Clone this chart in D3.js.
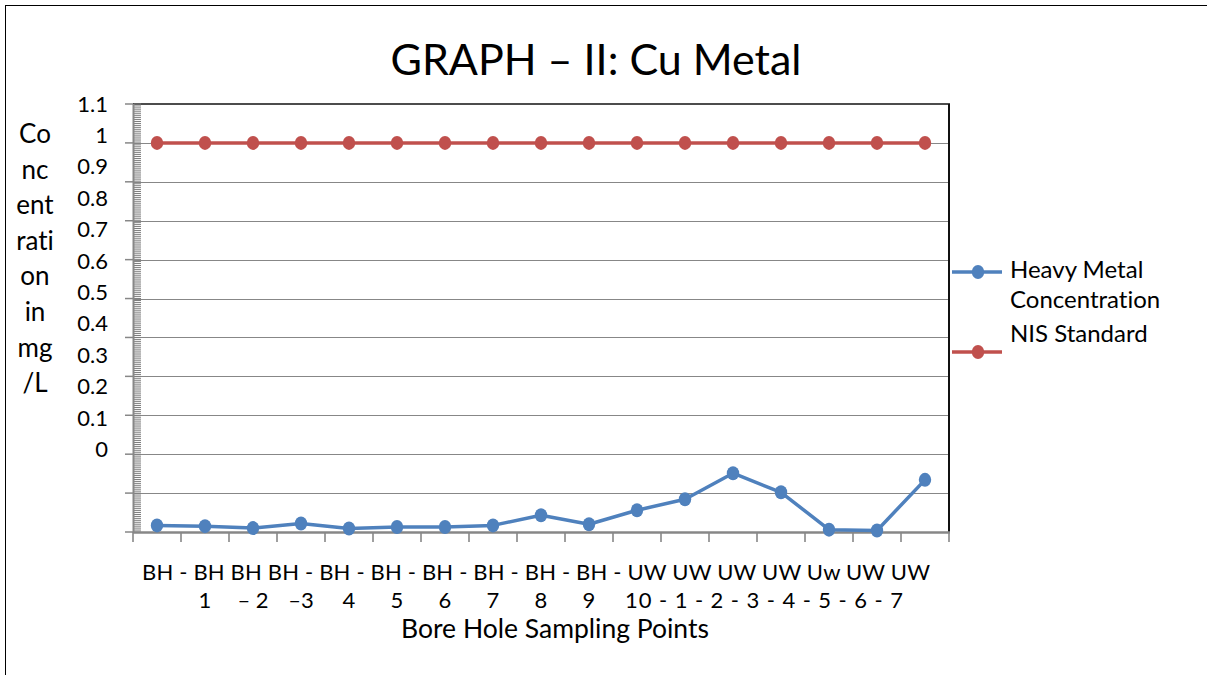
<!DOCTYPE html>
<html>
<head>
<meta charset="utf-8">
<script src="https://cdn.jsdelivr.net/npm/d3@7"></script>
<style>
  html, body { margin: 0; padding: 0; background: #fff; }
  svg { display: block; font-family: Lato, "Open Sans", sans-serif; font-variant-ligatures: none; }
</style>
</head>
<body>
<svg id="chart" width="1207" height="675"></svg>
<script>
// Sampling points (x categories)
const categories = ["BH - 1", "BH - 2", "BH - 3", "BH - 4", "BH - 5", "BH - 6", "BH - 7", "BH - 8", "BH - 9", "BH - 10",
                    "UW - 1", "UW - 2", "UW - 3", "UW - 4", "UW - 5", "UW - 6", "UW - 7"];

// Cu concentration in mg/L
const heavyMetal = [0.017, 0.015, 0.010, 0.022, 0.009, 0.013, 0.013, 0.017, 0.043, 0.020,
                    0.056, 0.084, 0.151, 0.102, 0.006, 0.004, 0.134];

// NIS permissible limit for Cu
const nisStandard = [1, 1, 1, 1, 1, 1, 1, 1, 1, 1, 1, 1, 1, 1, 1, 1, 1];

// Value axis labels
const yTickLabels = ["1.1", "1", "0.9", "0.8", "0.7", "0.6", "0.5", "0.4", "0.3", "0.2", "0.1", "0"];
const yTickValues = [1.1, 1.0, 0.9, 0.8, 0.7, 0.6, 0.5, 0.4, 0.3, 0.2, 0.1, 0];

// Category axis label text, as it wraps onto two lines
const xLabelTop = ["BH -", "BH", "BH", "BH -", "BH -", "BH -", "BH -", "BH -", "BH -", "BH -",
                   "UW", "UW", "UW", "UW", "Uw", "UW", "UW"];
const xLabelBottom = ["", "1", "\u2013 2", "\u20133", "4", "5", "6", "7", "8", "9"];
const xLabelBottomTail = ["10 -", "1 -", "2 -", "3 -", "4 -", "5 -", "6 -", " 7"];

const yTitleLines = ["Co", "nc", "ent", "rati", "on", "in", "mg", "/L"];

const colors = { metal: "#4f81bd", nis: "#c0504d" };

const W = 1207, H = 675;
const plot = { left: 133, right: 949, top: 104, bottom: 532 };

const svg = d3.select("#chart");

// outer frame
svg.append("rect")
  .attr("x", 5.5).attr("y", 5.5)
  .attr("width", W + 20).attr("height", H + 20)
  .attr("fill", "none").attr("stroke", "#000").attr("stroke-width", 1);

// scales
const x = d3.scaleBand().domain(categories).range([plot.left, plot.right]);
const y = d3.scaleLinear().domain([0, 1.1]).range([plot.bottom, plot.top]);
// the value labels sit in their own evenly spaced column
const yLabel = d3.scaleLinear().domain([1.1, 0]).range([111.5, 457]);

const grey = "#878787";

// horizontal gridlines
const gridVals = d3.range(1, 11).map(i => i / 10);
svg.append("g").selectAll("line").data(gridVals).join("line")
  .attr("x1", plot.left).attr("x2", plot.right)
  .attr("y1", d => Math.round(y(d)) + 0.5).attr("y2", d => Math.round(y(d)) + 0.5)
  .attr("stroke", grey).attr("stroke-width", 1.2);

// plot frame (top and right)
svg.append("line")
  .attr("x1", plot.left).attr("x2", plot.right + 1)
  .attr("y1", y(1.1)).attr("y2", y(1.1))
  .attr("stroke", "#111").attr("stroke-width", 1.5);
svg.append("line")
  .attr("x1", plot.right).attr("x2", plot.right)
  .attr("y1", y(1.1)).attr("y2", y(0))
  .attr("stroke", "#111").attr("stroke-width", 2);

// value axis: minor tick ladder, major ticks, axis line
const minorVals = d3.range(0, 221).map(i => i * 0.005);
svg.append("g").selectAll("line").data(minorVals).join("line")
  .attr("x1", plot.left + 1).attr("x2", plot.left + 8)
  .attr("y1", d => y(d)).attr("y2", d => y(d))
  .attr("stroke", "#7d7d7d").attr("stroke-width", 1);

svg.append("g").selectAll("line").data(d3.range(0, 12).map(i => i / 10)).join("line")
  .attr("x1", plot.left - 8).attr("x2", plot.left)
  .attr("y1", d => y(d)).attr("y2", d => y(d))
  .attr("stroke", grey).attr("stroke-width", 1.5);

svg.append("line")
  .attr("x1", plot.left + 0.5).attr("x2", plot.left + 0.5)
  .attr("y1", y(1.1)).attr("y2", y(0) + 1)
  .attr("stroke", grey).attr("stroke-width", 2);

// value labels
svg.append("g").selectAll("text").data(yTickValues).join("text")
  .attr("x", 108).attr("y", d => yLabel(d))
  .attr("text-anchor", "end")
  .attr("font-size", 22).attr("fill", "#000")
  .text((d, i) => yTickLabels[i]);

// value axis title, broken over several short lines
svg.append("g").selectAll("text").data(yTitleLines).join("text")
  .attr("x", 35).attr("y", (d, i) => 143 + i * 35.6)
  .attr("text-anchor", "middle")
  .attr("font-size", 26).attr("fill", "#000")
  .text(d => d);

// category axis line and ticks
svg.append("line")
  .attr("x1", plot.left).attr("x2", plot.right + 1)
  .attr("y1", y(0) + 0.5).attr("y2", y(0) + 0.5)
  .attr("stroke", grey).attr("stroke-width", 2.5);
const edges = categories.map(c => x(c)).concat([x(categories[categories.length - 1]) + x.bandwidth()]);
svg.append("g").selectAll("line").data(edges).join("line")
  .attr("x1", d => d).attr("x2", d => d)
  .attr("y1", y(0)).attr("y2", y(0) + 10)
  .attr("stroke", grey).attr("stroke-width", 1.6);

// category labels: first line flows across the axis
const labelFont = 22;
svg.append("text")
  .attr("x", 142).attr("y", 580)
  .attr("font-size", labelFont).attr("fill", "#000")
  .attr("textLength", 788).attr("lengthAdjust", "spacing")
  .text(xLabelTop.join(" "));

// second line: numbers under their categories, then the tail runs on
svg.append("g").selectAll("text").data(xLabelBottom).join("text")
  .attr("x", (d, i) => x(categories[i]) + x.bandwidth() / 2 + x.bandwidth())
  .attr("y", 608)
  .attr("text-anchor", "middle")
  .attr("font-size", labelFont).attr("fill", "#000")
  .text((d, i) => xLabelBottom[i + 1] || "");
svg.append("text")
  .attr("x", x(categories[10]) + 12).attr("y", 608)
  .attr("font-size", labelFont).attr("fill", "#000")
  .attr("textLength", 278).attr("lengthAdjust", "spacing")
  .text(xLabelBottomTail.join(" "));

// category axis title
svg.append("text")
  .attr("x", 555).attr("y", 638)
  .attr("text-anchor", "middle")
  .attr("font-size", 26.5).attr("fill", "#000")
  .text("Bore Hole Sampling Points");

// chart title
svg.append("text")
  .attr("x", 596).attr("y", 75)
  .attr("text-anchor", "middle")
  .attr("font-size", 43).attr("fill", "#000")
  .text("GRAPH \u2013 II: Cu Metal");

// series
const cx = c => x(c) + x.bandwidth() / 2;
const line = d3.line().x((d, i) => cx(categories[i])).y(d => y(d));

function drawSeries(values, color) {
  const g = svg.append("g");
  g.append("path").datum(values)
    .attr("d", line)
    .attr("fill", "none").attr("stroke", color)
    .attr("stroke-width", 3.5).attr("stroke-linejoin", "round");
  g.selectAll("ellipse").data(values).join("ellipse")
    .attr("cx", (d, i) => cx(categories[i])).attr("cy", d => y(d))
    .attr("rx", 6.2).attr("ry", 7)
    .attr("fill", color);
}
drawSeries(nisStandard, colors.nis);
drawSeries(heavyMetal, colors.metal);

// legend
const legend = svg.append("g");
const legendItems = [
  { color: colors.metal, ly: 272, lines: ["Heavy Metal", "Concentration"], ty: 278 },
  { color: colors.nis, ly: 352, lines: ["NIS Standard"], ty: 342 }
];
legendItems.forEach(it => {
  legend.append("line")
    .attr("x1", 952).attr("x2", 1002).attr("y1", it.ly).attr("y2", it.ly)
    .attr("stroke", it.color).attr("stroke-width", 3.5);
  legend.append("ellipse")
    .attr("cx", 978).attr("cy", it.ly).attr("rx", 6.2).attr("ry", 7)
    .attr("fill", it.color);
  it.lines.forEach((t, j) => {
    legend.append("text")
      .attr("x", 1010).attr("y", it.ty + j * 30)
      .attr("font-size", 24).attr("fill", "#000")
      .text(t);
  });
});
</script>
</body>
</html>
